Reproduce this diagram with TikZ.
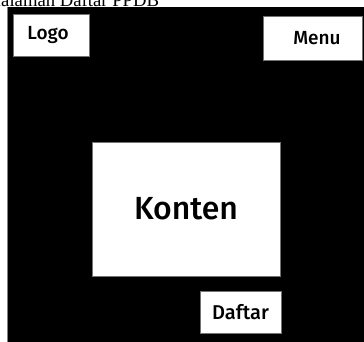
\documentclass[tikz,border=0pt]{standalone}
\usepackage{fontspec}
\setmainfont{Liberation Serif}
\newfontfamily\uifont{Fira Sans}[UprightFont=* Medium]
\begin{document}
\begin{tikzpicture}[x=1pt,y=-1pt,
  uibox/.style={draw=black!55, line width=0.6pt, fill=white, inner sep=0pt,
    font=\uifont},
  ]
  % page frame, also used to trim the heading
  \path[use as bounding box, clip] (0,0) rectangle (364,341);
  \fill[white] (0,0) rectangle (364,341);

  % heading
  \node[anchor=base west, inner sep=0pt, font=\fontsize{18.7}{20}\selectfont]
    (title) at (-12.5,6.5) {Halaman Daftar PPDB};

  % dark page area
  \fill[black] (7,7) rectangle (366,343);
  \draw[black!50, line width=0.5pt] (7,7) -- (7,343);

  % page elements
  \node[uibox, minimum width=76pt, minimum height=42pt,
    font=\uifont\fontsize{19}{22}\selectfont] (logo) at (51,35)
    {Logo\hspace*{6pt}};
  \node[uibox, minimum width=99pt, minimum height=44pt,
    font=\uifont\fontsize{19}{22}\selectfont] (menu) at (312.5,38.5)
    {\hspace*{9pt}Menu};
  \node[uibox, minimum width=188pt, minimum height=134pt,
    font=\uifont\fontsize{32}{36}\selectfont] (konten) at (186,209) {Konten};
  \node[uibox, minimum width=81pt, minimum height=42pt,
    font=\uifont\fontsize{20}{24}\selectfont] (daftar) at (240.5,312) {Daftar};
\end{tikzpicture}
\end{document}
